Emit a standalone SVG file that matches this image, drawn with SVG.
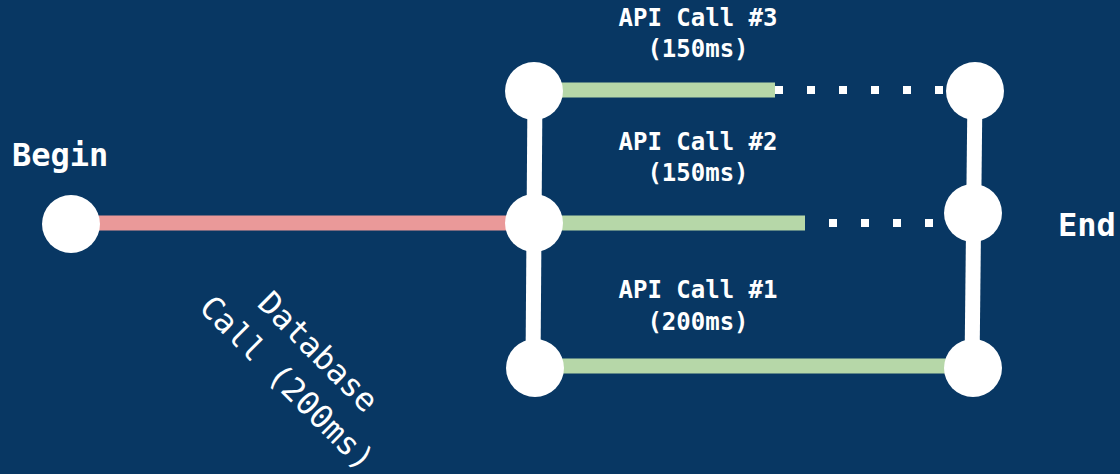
<svg xmlns="http://www.w3.org/2000/svg" width="1120" height="474" viewBox="0 0 1120 474">
<style>
.lbl{font-family:"DejaVu Sans Mono","Liberation Mono",monospace;font-weight:bold;fill:#ffffff}
.big{font-size:32px}
.sm{font-size:24px}
.reg{font-weight:normal}
.node{fill:#ffffff}
.wire{stroke:#ffffff;stroke-width:15;fill:none}
.db{stroke:#ea9999;stroke-width:15;fill:none}
.api{stroke:#b6d7a8;stroke-width:15;fill:none}
.dots{stroke:#ffffff;stroke-width:8;stroke-dasharray:8 24;fill:none}
</style>
<rect width="1120" height="474" fill="#083763"/>
<g id="connectors">
<line class="db" x1="71" y1="223" x2="534" y2="223"/>
<line class="wire" x1="535" y1="90" x2="533" y2="368"/>
<line class="wire" x1="975" y1="90" x2="972" y2="368"/>
<line class="api" x1="534" y1="90" x2="775" y2="90"/>
<line class="dots" x1="775" y1="90" x2="950" y2="90"/>
<line class="api" x1="534" y1="223" x2="805" y2="223"/>
<line class="dots" x1="829" y1="223" x2="950" y2="223"/>
<line class="api" x1="534" y1="366" x2="973" y2="366"/>
</g>
<g id="begin"><circle class="node" cx="71" cy="224" r="29"/><text class="lbl big" x="12" y="166">Begin</text></g>
<g id="split"><circle class="node" cx="534" cy="223" r="29"/></g>
<g id="api3-start"><circle class="node" cx="534" cy="91" r="29"/></g>
<g id="api1-start"><circle class="node" cx="535" cy="368" r="29"/></g>
<g id="api3-end"><circle class="node" cx="975" cy="91" r="29"/></g>
<g id="end"><circle class="node" cx="973" cy="213" r="29"/><text class="lbl big" x="1058" y="236">End</text></g>
<g id="api1-end"><circle class="node" cx="973" cy="368" r="29"/></g>
<g id="labels">
<text class="lbl sm" x="698" y="26" text-anchor="middle">API Call #3</text>
<text class="lbl sm" x="698" y="57" text-anchor="middle">(150ms)</text>
<text class="lbl sm" x="698" y="150" text-anchor="middle">API Call #2</text>
<text class="lbl sm" x="698" y="181" text-anchor="middle">(150ms)</text>
<text class="lbl sm" x="698" y="298" text-anchor="middle">API Call #1</text>
<text class="lbl sm" x="698" y="330" text-anchor="middle">(200ms)</text>
<g transform="translate(302,368) rotate(45)">
<text class="lbl big reg" x="0" y="-12" text-anchor="middle">Database</text>
<text class="lbl big reg" x="0" y="32" text-anchor="middle">Call (200ms)</text>
</g>
</g>
</svg>
